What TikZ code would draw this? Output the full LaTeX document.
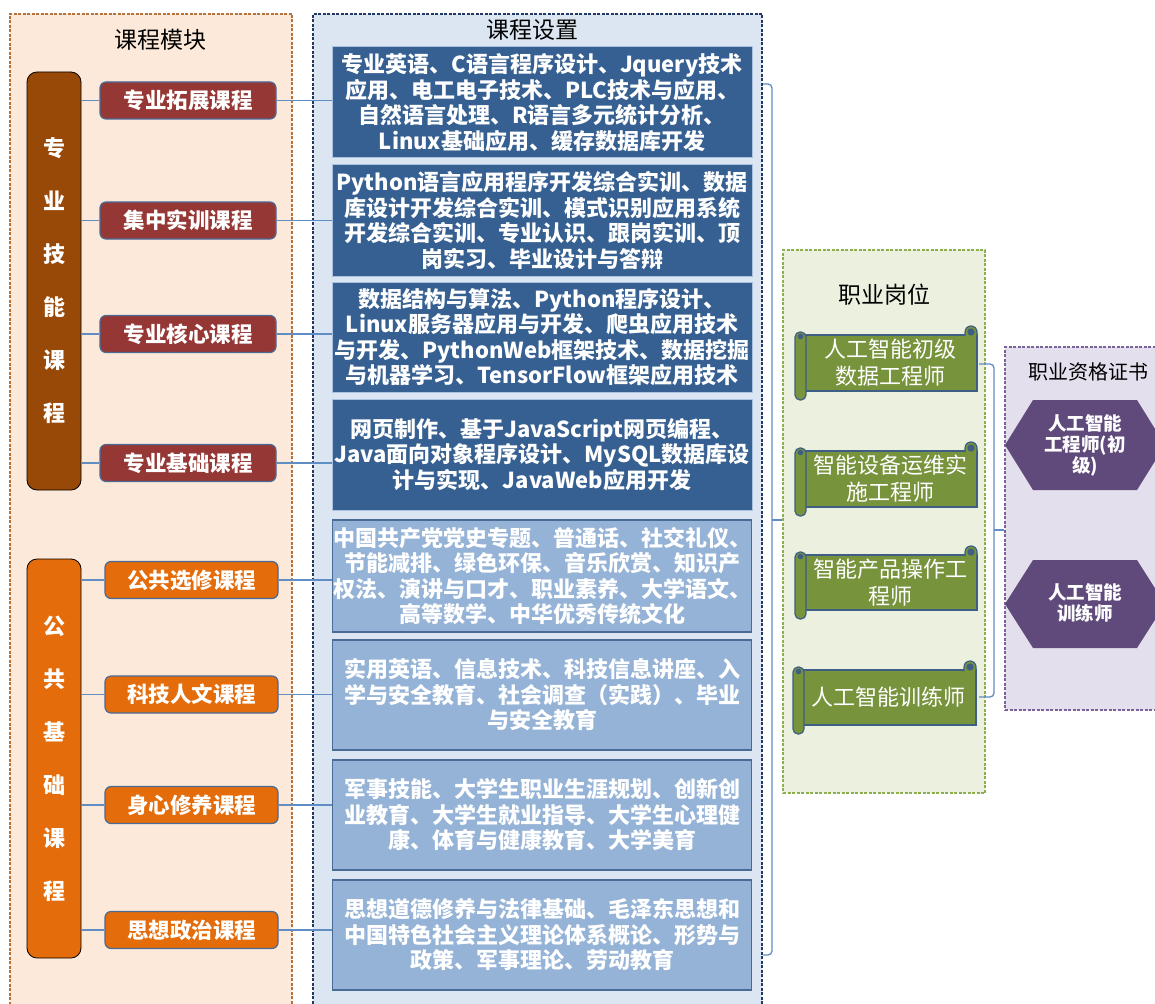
\documentclass[tikz,border=0pt]{standalone}
\usepackage{fontspec}
\setmainfont{Noto Sans CJK SC}
\usetikzlibrary{calc}
\definecolor{lpfill}{HTML}{FDE9D9}
\definecolor{lpdraw}{HTML}{B9713A}
\definecolor{mpfill}{HTML}{DCE6F2}
\definecolor{mpdraw}{HTML}{1F3864}
\definecolor{gpfill}{HTML}{EBF1DE}
\definecolor{gpdraw}{HTML}{8FAE4E}
\definecolor{ppfill}{HTML}{E4DFEC}
\definecolor{ppdraw}{HTML}{7A629A}
\definecolor{barbrown}{HTML}{984807}
\definecolor{barorange}{HTML}{E46C0A}
\definecolor{redbrown}{HTML}{953735}
\definecolor{outl}{HTML}{4A6B96}
\definecolor{darkblue}{HTML}{366092}
\definecolor{lightblue}{HTML}{95B3D7}
\definecolor{olive}{HTML}{77933C}
\definecolor{scrolldk}{HTML}{3E5E86}
\definecolor{hexpurple}{HTML}{604A7B}
\definecolor{connc}{HTML}{5F8DC4}
\newcommand\myscroll[6]{%
  \path[scrollfill] (#2+6,#3) rectangle (#4,#5);
  \filldraw[scrollfill] (#4-12,#3+1) -- (#4-12,#3-3) arc[start angle=180,end angle=360,radius=6] -- (#4,#3+1);
  \fill[scrolldk] (#4-6,#3-3) circle (3.6);
  \path[scrollfill, rounded corners=5] (#2,#3-3) rectangle (#2+11,#5+9);
  \fill[scrolldk] (#2+5.5,#3+1.5) circle (2.8);
  \node[scrolltext] (#1) at ({(#2+#4)/2+4},{(#3+#5)/2}) {#6};
}
\begin{document}
\begin{tikzpicture}[x=1pt,y=-1pt,
  panel/.style={line width=1.2pt, dash pattern=on 3pt off 1.5pt},
  titletext/.style={font=\fontsize{23}{26}\selectfont, text=black},
  vbar/.style={draw=black, line width=0.8pt, rounded corners=10, minimum width=54, text=white,
    font=\bfseries\fontsize{22}{53}\selectfont, align=center},
  cbox/.style={draw=outl, line width=1.2pt, rounded corners=6, minimum width=176, minimum height=37,
    text=white, font=\bfseries\fontsize{21.5}{24}\selectfont, inner sep=0pt},
  dbox/.style={fill=darkblue, draw=lightblue!80!white, line width=1pt, minimum width=420, minimum height=111,
    text=white, font=\bfseries\fontsize{22}{25.5}\selectfont, align=center, inner sep=0pt},
  lbox/.style={fill=lightblue, draw=outl, line width=1.2pt, minimum width=419, minimum height=110,
    text=white, font=\bfseries\fontsize{22}{25.5}\selectfont, align=center, inner sep=0pt},
  conn/.style={draw=connc, line width=1.3pt},
  scrollfill/.style={fill=olive, draw=scrolldk, line width=1.2pt},
  scrolltext/.style={text=white, font=\fontsize{22}{27}\selectfont, align=center, inner sep=0pt},
  hextext/.style={text=white, font=\bfseries\fontsize{18.5}{21}\selectfont, align=center, inner sep=0pt},
]
\useasboundingbox (0,0) rectangle (1155,1003);
\fill[white] (0,0) rectangle (1155,1003);

% ---------- panels ----------
\node[panel, draw=lpdraw, fill=lpfill, minimum width=282, minimum height=1000, inner sep=0pt] (lp) at (151,514) {};
\node[titletext] (lpt) at (160,40) {课程模块};
\node[panel, draw=mpdraw, fill=mpfill, minimum width=449, minimum height=1000, inner sep=0pt] (mp) at (537.5,514) {};
\node[titletext] (mpt) at (532,30) {课程设置};
\node[panel, draw=gpdraw, fill=gpfill, minimum width=202, minimum height=543, inner sep=0pt] (gp) at (884,521.5) {};
\node[titletext] (gpt) at (884,295) {职业岗位};
\node[panel, draw=ppdraw, fill=ppfill, minimum width=175, minimum height=363, inner sep=0pt] (pp) at (1092.5,528.5) {};
\node[titletext, font=\fontsize{20}{24}\selectfont] (ppt) at (1088,372) {职业资格证书};

% ---------- vertical bars ----------
\node[vbar, fill=barbrown, minimum height=418] (v1) at (54,281) {专\\业\\技\\能\\课\\程};
\node[vbar, fill=barorange, minimum height=399] (v2) at (54,758.5) {公\\共\\基\\础\\课\\程};

% ---------- course boxes ----------
\node[cbox, fill=redbrown] (c1) at (188,100.5) {专业拓展课程};
\node[cbox, fill=redbrown] (c2) at (188,220.5) {集中实训课程};
\node[cbox, fill=redbrown] (c3) at (188,334) {专业核心课程};
\node[cbox, fill=redbrown] (c4) at (188,463) {专业基础课程};
\node[cbox, fill=barorange, minimum width=173] (c5) at (191.5,580) {公共选修课程};
\node[cbox, fill=barorange, minimum width=173] (c6) at (191.5,694.5) {科技人文课程};
\node[cbox, fill=barorange, minimum width=173] (c7) at (191.5,805) {身心修养课程};
\node[cbox, fill=barorange, minimum width=173] (c8) at (191.5,930) {思想政治课程};

% ---------- content boxes ----------
\node[dbox] (b1) at (542,102.5) {专业英语、C语言程序设计、Jquery技术\\应用、电工电子技术、PLC技术与应用、\\自然语言处理、R语言多元统计分析、\\Linux基础应用、缓存数据库开发};
\node[dbox] (b2) at (542,220.5) {Python语言应用程序开发综合实训、数据\\库设计开发综合实训、模式识别应用系统\\开发综合实训、专业认识、跟岗实训、顶\\岗实习、毕业设计与答辩};
\node[dbox, minimum height=110] (b3) at (542,337) {数据结构与算法、Python程序设计、\\Linux服务器应用与开发、爬虫应用技术\\与开发、PythonWeb框架技术、数据挖掘\\与机器学习、TensorFlow框架应用技术};
\node[dbox] (b4) at (542,454.5) {网页制作、基于JavaScript网页编程、\\Java面向对象程序设计、MySQL数据库设\\计与实现、JavaWeb应用开发};
\node[lbox, minimum height=112] (b5) at (542,576) {中国共产党党史专题、普通话、社交礼仪、\\节能减排、绿色环保、音乐欣赏、知识产\\权法、演讲与口才、职业素养、大学语文、\\高等数学、中华优秀传统文化};
\node[lbox] (b6) at (542,695) {实用英语、信息技术、科技信息讲座、入\\学与安全教育、社会调查（实践）、毕业\\与安全教育};
\node[lbox] (b7) at (542,815) {军事技能、大学生职业生涯规划、创新创\\业教育、大学生就业指导、大学生心理健\\康、体育与健康教育、大学美育};
\node[lbox] (b8) at (542,935) {思想道德修养与法律基础、毛泽东思想和\\中国特色社会主义理论体系概论、形势与\\政策、军事理论、劳动教育};

% ---------- connectors left ----------
\foreach \c in {c1,c2,c3,c4} {\draw[conn] (v1.east |- \c.west) -- (\c.west);}
\foreach \c in {c5,c6,c7,c8} {\draw[conn] (v2.east |- \c.west) -- (\c.west);}
\foreach \c/\b in {c1/b1,c2/b2,c3/b3,c4/b4,c5/b5,c6/b6,c7/b7,c8/b8} {\draw[conn] (\c.east) -- (\c.east -| \b.west);}

% ---------- bracket 1 ----------
\coordinate (bt) at (763,84);
\coordinate (bb) at (763,955);
\coordinate (bm) at (772,520);
\draw[conn, rounded corners=4] (bt) -- (772,84) -- (772,955) -- (bb);
\draw[conn] (bm) -- (bm -| gp.west);

% ---------- scrolls ----------
\myscroll{s1}{795}{335}{977}{391}{人工智能初级\\数据工程师}
\myscroll{s2}{795}{451}{977}{507}{智能设备运维实\\施工程师}
\myscroll{s3}{795}{555}{977}{610}{智能产品操作工\\程师}
\myscroll{s4}{793}{670}{976}{725}{人工智能训练师}

% ---------- bracket 2 ----------
\coordinate (ct) at (979,364);
\coordinate (cb) at (979,697);
\coordinate (cm) at (994,530);
\draw[conn, rounded corners=4] (ct) -- (994,364) -- (994,697) -- (cb);
\draw[conn] (cm) -- (cm -| pp.west);

% ---------- hexagons ----------
\fill[hexpurple] (1005,445) -- (1033,400) -- (1137,400) -- (1165,445) -- (1137,490) -- (1033,490) -- cycle;
\node[hextext] (h1) at (1085,445) {人工智能\\工程师(初\\级)};
\fill[hexpurple] (1005,604) -- (1033,560) -- (1137,560) -- (1165,604) -- (1137,648) -- (1033,648) -- cycle;
\node[hextext] (h2) at (1085,603) {人工智能\\训练师};
\end{tikzpicture}
\end{document}
